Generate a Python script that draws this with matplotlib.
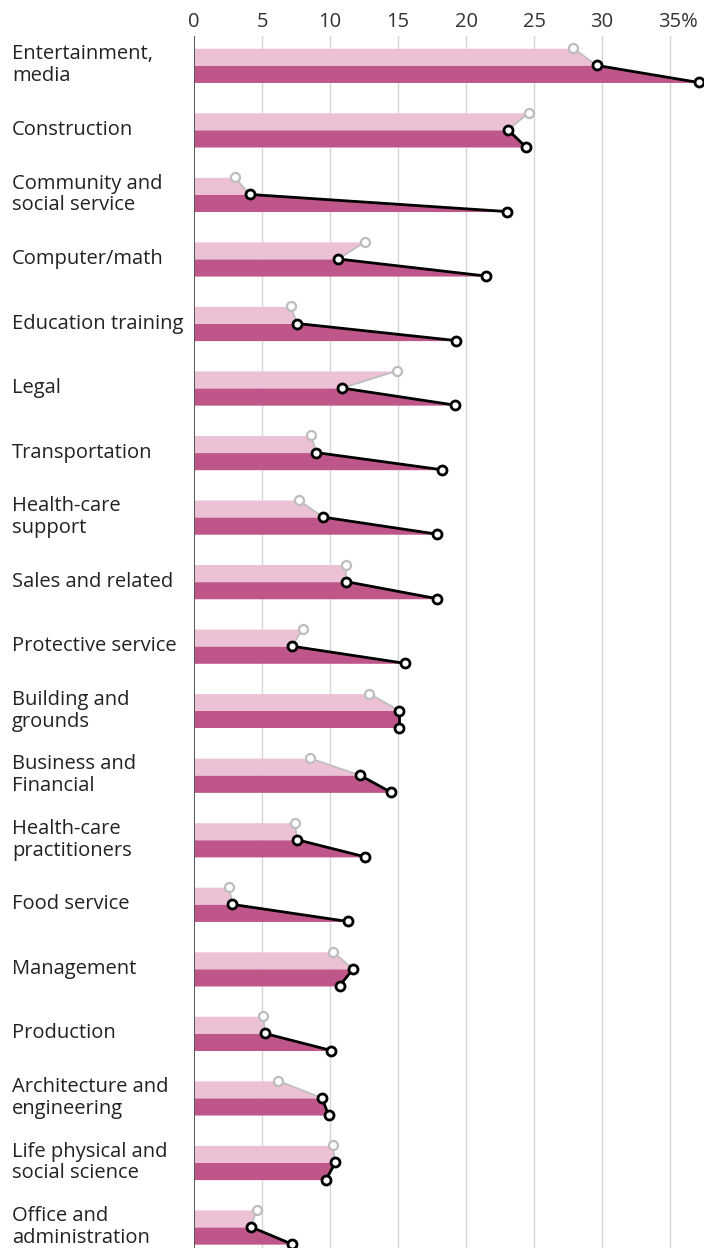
"""
Occupation share chart: light/dark slanted bars with connector markers.
Output: out.png
"""
import matplotlib
matplotlib.use("Agg")
import matplotlib.pyplot as plt
import matplotlib.transforms as mtransforms
import numpy as np

plt.rcParams.update({
    "font.family": ["Open Sans", "DejaVu Sans"],
    "font.size":   12,
})

LIGHT_COLOR = "#ecc1d6"
DARK_COLOR  = "#bf5689"
GRAY_COLOR  = "#bdbdbd"
GRID_COLOR  = "#d6d6d6"
TEXT_COLOR  = "#333333"

categories = [
    "Entertainment,\nmedia",
    "Construction",
    "Community and\nsocial service",
    "Computer/math",
    "Education training",
    "Legal",
    "Transportation",
    "Health-care\nsupport",
    "Sales and related",
    "Protective service",
    "Building and\ngrounds",
    "Business and\nFinancial",
    "Health-care\npractitioners",
    "Food service",
    "Management",
    "Production",
    "Architecture and\nengineering",
    "Life physical and\nsocial science",
    "Office and\nadministration",
]

# gray (top) marker, middle black marker, bottom black marker
first_values  = [27.9, 24.6, 3.0, 12.6, 7.1, 14.9, 8.6, 7.7, 11.2, 8.0,
                 12.9, 8.5, 7.4, 2.6, 10.2, 5.1, 6.2, 10.2, 4.6]
middle_values = [29.6, 23.1, 4.1, 10.6, 7.6, 10.9, 9.0, 9.5, 11.2, 7.2,
                 15.1, 12.2, 7.6, 2.8, 11.7, 5.2, 9.4, 10.4, 4.2]
last_values   = [37.1, 24.4, 23.0, 21.5, 19.3, 19.2, 18.2, 17.9, 17.9, 15.5,
                 15.1, 14.5, 12.6, 11.3, 10.7, 10.1, 9.9, 9.7, 7.2]

tick_values = [0, 5, 10, 15, 20, 25, 30, 35]
tick_labels = ["0", "5", "10", "15", "20", "25", "30", "35%"]

BAR_H = 0.265  # height of each half-bar, in row units

fig = plt.figure(figsize=(7.04, 12.48), dpi=100)
ax = fig.add_axes([194 / 704, 0.0, 1 - 194 / 704, 1 - 36 / 1248])

for i, (a, b, c) in enumerate(zip(first_values, middle_values, last_values)):
    top, mid, bot = i, i + BAR_H, i + 2 * BAR_H
    ax.fill_betweenx([top, mid], 0, [a, b], color=LIGHT_COLOR, lw=0, zorder=2)
    ax.fill_betweenx([mid, bot], 0, [b, c], color=DARK_COLOR, lw=0, zorder=2)
    ax.plot([a, b], [top, mid], color=GRAY_COLOR, lw=1.2, zorder=4,
            clip_on=False)
    ax.plot([b, c], [mid, bot], color="black", lw=2.0, zorder=5,
            clip_on=False)
    ax.plot([a], [top], marker="o", ms=6.5, mfc="white", mec=GRAY_COLOR,
            mew=1.6, zorder=6, clip_on=False)
    ax.plot([b, c], [mid, bot], ls="none", marker="o", ms=6.5, mfc="white",
            mec="black", mew=2.0, zorder=7, clip_on=False)

    ax.text(-182 / 13.6, mid, categories[i], ha="left", va="center",
            fontsize=14.5, color="#222222", linespacing=1.12)

ax.set_xlim(0, 37.5)
ax.set_ylim(len(categories) - 1 + 2 * BAR_H + 0.06, -0.19)

ax.set_xticks(tick_values)
ax.set_xticklabels(tick_labels, fontsize=14.5, color=TEXT_COLOR)
ax.xaxis.tick_top()
ax.tick_params(axis="x", length=0, pad=3)
ax.set_yticks([])

# keep the digits of "35%" centred over the tick
last_lbl = ax.get_xticklabels()[-1]
last_lbl.set_horizontalalignment("left")
last_lbl.set_transform(last_lbl.get_transform() +
                       mtransforms.ScaledTranslation(-12 / 100, 0,
                                                     fig.dpi_scale_trans))

for v in tick_values[1:]:
    ax.axvline(v, color=GRID_COLOR, lw=1.0, zorder=1)
ax.axvline(0, color="#555555", lw=1.4, zorder=3)

for side in ["top", "right", "bottom", "left"]:
    ax.spines[side].set_visible(False)

fig.savefig("out.png", dpi=100)
plt.close(fig)
